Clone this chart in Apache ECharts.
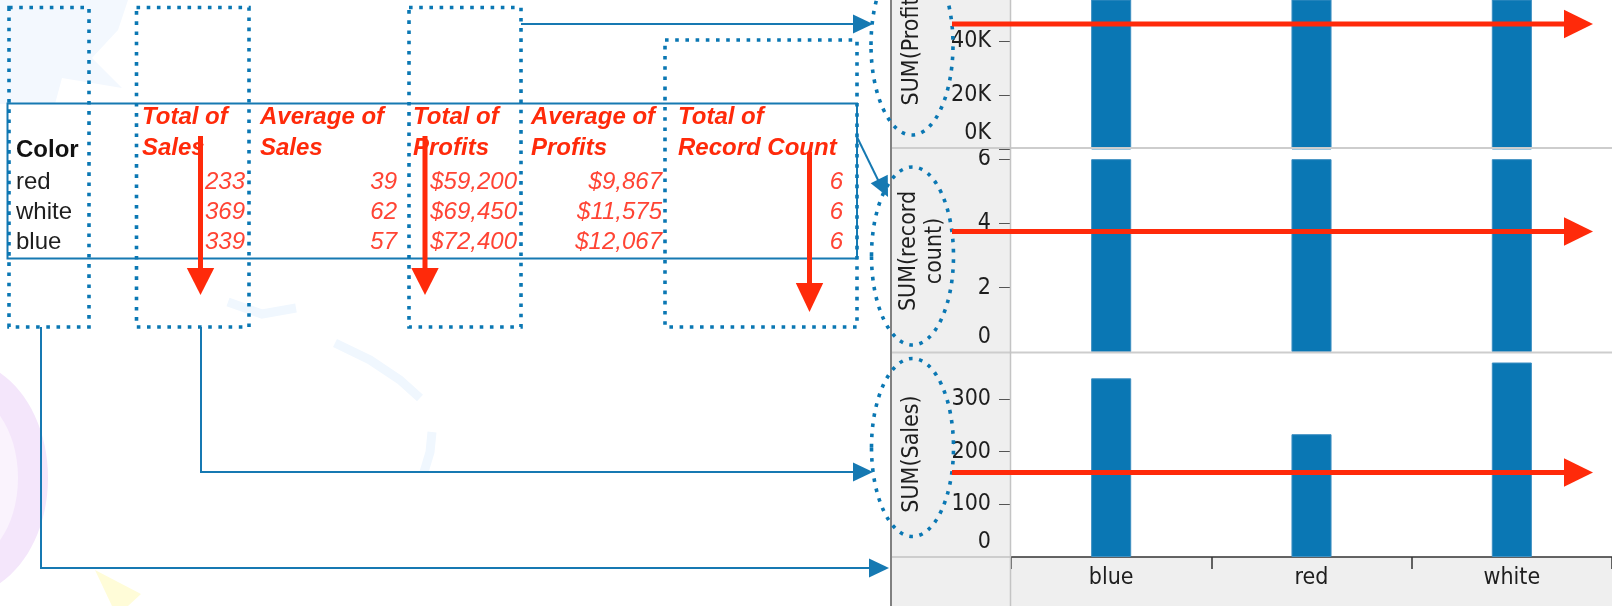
<!DOCTYPE html>
<html>
<head>
<meta charset="utf-8">
<script src="https://cdn.jsdelivr.net/npm/echarts@6/dist/echarts.min.js"></script>
<style>
html,body{margin:0;padding:0;background:#fff;}
#chart{width:1612px;height:606px;}
</style>
</head>
<body>
<div id="chart"></div>
<script>
// ---------- data ----------
const tableColors = ['red', 'white', 'blue'];
const totalSales = [233, 369, 339];
const avgSales = [39, 62, 57];
const totalProfits = [59200, 69450, 72400];
const avgProfits = [9867, 11575, 12067];
const recordCount = [6, 6, 6];
const chartCategories = ['blue', 'red', 'white'];
const headerLines = [['Total of', 'Sales'], ['Average of', 'Sales'], ['Total of', 'Profits'], ['Average of', 'Profits'], ['Total of', 'Record Count']];
const firstHeader = 'Color';
const profitTicks = [0, 20000, 40000];
const countTicks = [0, 2, 4, 6];
const salesTicks = [0, 100, 200, 300];
const axisTitles = ['SUM(Profits)', 'SUM(record\ncount)', 'SUM(Sales)'];

// ---------- helpers ----------
const byCat = arr => chartCategories.map(c => arr[tableColors.indexOf(c)]);
const RF = '"DejaVu Sans Condensed", "DejaVu Sans", sans-serif';
const TF = '"Liberation Sans", Arial, sans-serif';
const BLUE = '#0a77b3';
const LINKBLUE = '#1679b2';
const RED = '#ff2a0a';
const DATARED = '#ff4434';
const BAR = '#0a77b4';

function txt(x, y, text, font, fill, align, valign, extra) {
  const o = { type: 'text', x: x, y: y, z: 60,
    style: { text: text, font: font, fill: fill, align: align, textAlign: align,
      verticalAlign: valign, textVerticalAlign: valign } };
  if (extra) Object.assign(o, extra);
  return o;
}
function rect(x1, y1, x2, y2, fill, z) {
  return { type: 'rect', z: z, shape: { x: x1, y: y1, width: x2 - x1, height: y2 - y1 }, style: { fill: fill } };
}
function hline(x1, x2, y, color, w, z) {
  return { type: 'line', z: z, shape: { x1: x1, y1: y, x2: x2, y2: y }, style: { stroke: color, lineWidth: w } };
}
function vline(x, y1, y2, color, w, z) {
  return { type: 'line', z: z, shape: { x1: x, y1: y1, x2: x, y2: y2 }, style: { stroke: color, lineWidth: w } };
}
function dotted(x1, y1, x2, y2) {
  return { type: 'rect', z: 90, shape: { x: x1, y: y1, width: x2 - x1, height: y2 - y1 },
    style: { fill: 'none', stroke: BLUE, lineWidth: 3.6, lineDash: [3.6, 6.6] } };
}
function dottedEllipse(cx, cy, rx, ry) {
  return { type: 'ellipse', z: 90, shape: { cx: cx, cy: cy, rx: rx, ry: ry },
    style: { fill: 'none', stroke: BLUE, lineWidth: 3.6, lineDash: [3.6, 6.6] } };
}
function poly(points, fill, z) {
  return { type: 'polygon', z: z || 95, shape: { points: points }, style: { fill: fill } };
}
function pline(points, stroke, w, z) {
  return { type: 'polyline', z: z || 95, shape: { points: points }, style: { stroke: stroke, lineWidth: w, fill: 'none' } };
}
function redArrowV(x, y1, yBase, yTip, hw) {
  return [vline(x, y1, yBase + 2, RED, 5, 95), poly([[x - hw, yBase], [x + hw, yBase], [x, yTip]], RED, 96)];
}
function redArrowH(y, x1, xBase, xTip, hh) {
  return [hline(x1, xBase + 2, y, RED, 5, 95), poly([[xBase, y - hh], [xBase, y + hh], [xTip, y]], RED, 96)];
}
function blueHead(tx, ty, dx, dy, len, hw) {
  const n = Math.sqrt(dx * dx + dy * dy); const ux = dx / n, uy = dy / n;
  const bx = tx - ux * len, by = ty - uy * len;
  return poly([[tx, ty], [bx - uy * hw, by + ux * hw], [bx + uy * hw, by - ux * hw]], LINKBLUE, 96);
}

// ---------- graphic ----------
const g = [];
// faint background decorations
g.push({ type: 'ellipse', z: -20, shape: { cx: -40, cy: 478, rx: 88, ry: 118 }, style: { fill: '#f4e6fb' } });
g.push({ type: 'ellipse', z: -19, shape: { cx: -40, cy: 478, rx: 58, ry: 86 }, style: { fill: '#faf3fd' } });
g.push(poly([[95, 570], [141, 594], [128, 606], [112, 606]], '#fffcd8', -20));
g.push(poly([[0, 0], [128, 0], [118, 30], [92, 58], [122, 88], [62, 78], [55, 104], [0, 104]], '#f3f8fe', -20));
g.push(pline([[335, 343], [370, 360], [400, 380], [420, 398]], '#f0f7fe', 9, -20));
g.push(pline([[432, 432], [430, 452], [424, 472]], '#f0f7fe', 9, -20));
g.push(pline([[228, 302], [262, 314], [296, 308]], '#f0f7fe', 9, -20));

// right panel chrome
g.push(rect(891, 0, 1011, 606, '#efefef', -5));
g.push(rect(1011, 557, 1612, 606, '#efefef', -5));
g.push(hline(891, 1612, 148, '#cdcdcd', 2, 5));
g.push(hline(891, 1612, 352.5, '#cdcdcd', 2, 5));
g.push(hline(891, 1011, 557, '#cdcdcd', 2, 5));
g.push(vline(1010.5, 0, 606, '#c4c4c4', 1.5, 5));
g.push(vline(891, 0, 606, '#808080', 2, 5));

// axis titles
const titleY = [42, 251, 454];
const titleX = [912, 922, 912];
axisTitles.forEach((t, i) => {
  const o = txt(titleX[i], titleY[i], t, '23px ' + RF, '#1e1e1e', 'center', 'middle', { rotation: Math.PI / 2 });
  o.style.lineHeight = 26;
  g.push(o);
});

// table box
g.push({ type: 'rect', z: 40, shape: { x: 7.5, y: 103.5, width: 849.5, height: 155 }, style: { fill: 'none', stroke: LINKBLUE, lineWidth: 2 } });

// table texts
g.push(txt(16, 150, firstHeader, 'bold 24px ' + TF, '#111', 'left', 'middle'));
tableColors.forEach((c, r) => g.push(txt(16, 182 + r * 30, c, '24px ' + TF, '#1e1e1e', 'left', 'middle')));
const colX = [142, 260, 413, 531, 678];
headerLines.forEach((h, i) => {
  g.push(txt(colX[i], 117, h[0], 'italic bold 24px ' + TF, RED, 'left', 'middle'));
  g.push(txt(colX[i], 148, h[1], 'italic bold 24px ' + TF, RED, 'left', 'middle'));
});
const fmtMoney = v => '$' + v.toLocaleString('en-US');
const cols = [totalSales.map(String), avgSales.map(String), totalProfits.map(fmtMoney), avgProfits.map(fmtMoney), recordCount.map(String)];
const valRight = [245, 397, 517, 662, 843];
cols.forEach((col, i) => col.forEach((v, r) => g.push(txt(valRight[i], 182 + r * 30, v, 'italic 24px ' + TF, DATARED, 'right', 'middle'))));

// dotted boxes
g.push(dotted(9, 7.5, 89, 327));
g.push(dotted(136.5, 7.5, 249, 327));
g.push(dotted(409, 7.5, 521, 327));
g.push(dotted(665, 40, 857, 327));

// dotted ellipses around axis titles
g.push(dottedEllipse(912, 45, 41, 90));
g.push(dottedEllipse(912.5, 256, 41, 89));
g.push(dottedEllipse(912.5, 447.5, 41, 89));

// blue connectors
g.push(hline(521, 856, 24, LINKBLUE, 2, 95));
g.push(blueHead(873, 24, 1, 0, 20, 9.5));
g.push({ type: 'line', z: 95, shape: { x1: 857, y1: 137, x2: 879, y2: 182 }, style: { stroke: LINKBLUE, lineWidth: 2 } });
g.push(blueHead(888, 197, 22, 45, 20, 9.5));
g.push(pline([[201, 327], [201, 472], [856, 472]], LINKBLUE, 2));
g.push(blueHead(873, 472, 1, 0, 20, 9.5));
g.push(pline([[41, 327], [41, 568], [872, 568]], LINKBLUE, 2));
g.push(blueHead(889, 568, 1, 0, 20, 9.5));

// red arrows
redArrowV(200.5, 136, 268, 295, 13.7).forEach(e => g.push(e));
redArrowV(425, 136, 268, 295, 13.7).forEach(e => g.push(e));
redArrowV(809.5, 152, 283, 312, 13.7).forEach(e => g.push(e));
[24, 231.5, 472.5].forEach(y => redArrowH(y, 952, 1564, 1593, 14.2).forEach(e => g.push(e)));

// ---------- chart ----------
const yBase = {
  type: 'value', min: 0,
  axisLine: { show: false }, splitLine: { show: false },
  axisTick: { show: true, length: 12, lineStyle: { color: '#555', width: 1 } },
  axisLabel: { margin: 20, fontSize: 23, fontFamily: RF, color: '#1e1e1e' }
};
function zeroRich(pad) { return { z: { fontSize: 23, fontFamily: RF, color: '#1e1e1e', padding: [0, 0, pad, 0] } }; }

const chart = echarts.init(document.getElementById('chart'), null, { renderer: 'canvas' });
chart.setOption({
  animation: false,
  grid: [
    { left: 1011, width: 610, top: 0, height: 149.5 },
    { left: 1011, width: 610, top: 149.5, height: 202.5 },
    { left: 1011, width: 610, top: 352.5, height: 204.5 }
  ],
  xAxis: [
    { type: 'category', gridIndex: 0, data: chartCategories, show: false },
    { type: 'category', gridIndex: 1, data: chartCategories, show: false },
    { type: 'category', gridIndex: 2, data: chartCategories,
      axisLine: { show: true, lineStyle: { color: '#333', width: 1.5 } },
      axisTick: { show: true, length: 12, lineStyle: { color: '#333', width: 1.5 } },
      axisLabel: { margin: 10, fontSize: 23, fontFamily: RF, color: '#1e1e1e' } }
  ],
  yAxis: [
    Object.assign({}, yBase, { gridIndex: 0, max: 55370,
      axisTick: Object.assign({}, yBase.axisTick, { customValues: profitTicks }),
      axisLabel: Object.assign({}, yBase.axisLabel, { customValues: profitTicks,
        formatter: v => v === 0 ? '{z|0K}' : (v / 1000) + 'K', rich: zeroRich(32) }) }),
    Object.assign({}, yBase, { gridIndex: 1, max: 6.3,
      axisTick: Object.assign({}, yBase.axisTick, { customValues: countTicks }),
      axisLabel: Object.assign({}, yBase.axisLabel, { customValues: countTicks,
        formatter: v => v === 0 ? '{z|0}' : String(v), rich: zeroRich(30) }) }),
    Object.assign({}, yBase, { gridIndex: 2, max: 388,
      axisTick: Object.assign({}, yBase.axisTick, { customValues: salesTicks }),
      axisLabel: Object.assign({}, yBase.axisLabel, { customValues: salesTicks,
        formatter: v => v === 0 ? '{z|0}' : String(v), rich: zeroRich(30) }) })
  ],
  series: [
    { type: 'bar', xAxisIndex: 0, yAxisIndex: 0, data: byCat(totalProfits), barWidth: '20%', silent: true, clip: true,
      itemStyle: { color: BAR, borderColor: '#3d8fc2', borderWidth: 1 } },
    { type: 'bar', xAxisIndex: 1, yAxisIndex: 1, data: byCat(recordCount), barWidth: '20%', silent: true,
      itemStyle: { color: BAR, borderColor: '#3d8fc2', borderWidth: 1 } },
    { type: 'bar', xAxisIndex: 2, yAxisIndex: 2, data: byCat(totalSales), barWidth: '20%', silent: true,
      itemStyle: { color: BAR, borderColor: '#3d8fc2', borderWidth: 1 } }
  ],
  graphic: { elements: g }
});
</script>
</body>
</html>
